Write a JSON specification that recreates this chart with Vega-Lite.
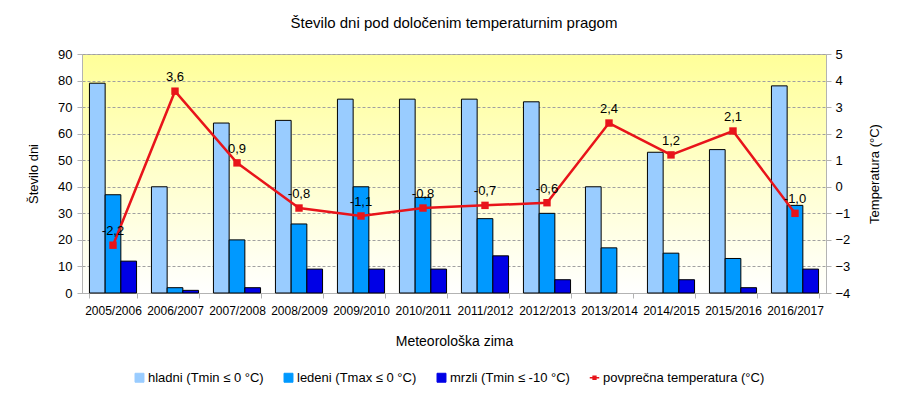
{
  "$schema": "https://vega.github.io/schema/vega-lite/v6.json",
  "autosize": "none",
  "width": 744,
  "height": 239,
  "padding": {"left": 82, "top": 54, "right": 76, "bottom": 104},
  "background": "#ffffff",
  "title": {
    "text": "Število dni pod določenim temperaturnim pragom",
    "font": "Liberation Sans",
    "fontSize": 15,
    "fontWeight": "normal",
    "color": "#000000",
    "offset": 17
  },
  "config": {
    "font": "Liberation Sans",
    "view": {
      "stroke": "#b3b3b3",
      "fill": {
        "gradient": "linear",
        "x1": 0, "y1": 0, "x2": 0, "y2": 1,
        "stops": [
          {"offset": 0, "color": "#ffff99"},
          {"offset": 1, "color": "#ffffff"}
        ]
      }
    },
    "axis": {
      "domainColor": "#b3b3b3",
      "tickColor": "#b3b3b3",
      "tickSize": 5,
      "labelColor": "#000000",
      "titleColor": "#000000",
      "titleFontWeight": "normal",
      "labelFont": "Liberation Sans",
      "titleFont": "Liberation Sans"
    }
  },
  "datasets": {
    "bars": [
      {"zima": "2005/2006", "serija": "hladni", "dni": 79},
      {"zima": "2005/2006", "serija": "ledeni", "dni": 37},
      {"zima": "2005/2006", "serija": "mrzli", "dni": 12},
      {"zima": "2006/2007", "serija": "hladni", "dni": 40},
      {"zima": "2006/2007", "serija": "ledeni", "dni": 2},
      {"zima": "2006/2007", "serija": "mrzli", "dni": 1},
      {"zima": "2007/2008", "serija": "hladni", "dni": 64},
      {"zima": "2007/2008", "serija": "ledeni", "dni": 20},
      {"zima": "2007/2008", "serija": "mrzli", "dni": 2},
      {"zima": "2008/2009", "serija": "hladni", "dni": 65},
      {"zima": "2008/2009", "serija": "ledeni", "dni": 26},
      {"zima": "2008/2009", "serija": "mrzli", "dni": 9},
      {"zima": "2009/2010", "serija": "hladni", "dni": 73},
      {"zima": "2009/2010", "serija": "ledeni", "dni": 40},
      {"zima": "2009/2010", "serija": "mrzli", "dni": 9},
      {"zima": "2010/2011", "serija": "hladni", "dni": 73},
      {"zima": "2010/2011", "serija": "ledeni", "dni": 36},
      {"zima": "2010/2011", "serija": "mrzli", "dni": 9},
      {"zima": "2011/2012", "serija": "hladni", "dni": 73},
      {"zima": "2011/2012", "serija": "ledeni", "dni": 28},
      {"zima": "2011/2012", "serija": "mrzli", "dni": 14},
      {"zima": "2012/2013", "serija": "hladni", "dni": 72},
      {"zima": "2012/2013", "serija": "ledeni", "dni": 30},
      {"zima": "2012/2013", "serija": "mrzli", "dni": 5},
      {"zima": "2013/2014", "serija": "hladni", "dni": 40},
      {"zima": "2013/2014", "serija": "ledeni", "dni": 17},
      {"zima": "2014/2015", "serija": "hladni", "dni": 53},
      {"zima": "2014/2015", "serija": "ledeni", "dni": 15},
      {"zima": "2014/2015", "serija": "mrzli", "dni": 5},
      {"zima": "2015/2016", "serija": "hladni", "dni": 54},
      {"zima": "2015/2016", "serija": "ledeni", "dni": 13},
      {"zima": "2015/2016", "serija": "mrzli", "dni": 2},
      {"zima": "2016/2017", "serija": "hladni", "dni": 78},
      {"zima": "2016/2017", "serija": "ledeni", "dni": 33},
      {"zima": "2016/2017", "serija": "mrzli", "dni": 9}
    ],
    "temps": [
      {"zima": "2005/2006", "temp": -2.2, "lbl": "-2,2"},
      {"zima": "2006/2007", "temp": 3.6, "lbl": "3,6"},
      {"zima": "2007/2008", "temp": 0.9, "lbl": "0,9"},
      {"zima": "2008/2009", "temp": -0.8, "lbl": "-0,8"},
      {"zima": "2009/2010", "temp": -1.1, "lbl": "-1,1"},
      {"zima": "2010/2011", "temp": -0.8, "lbl": "-0,8"},
      {"zima": "2011/2012", "temp": -0.7, "lbl": "-0,7"},
      {"zima": "2012/2013", "temp": -0.6, "lbl": "-0,6"},
      {"zima": "2013/2014", "temp": 2.4, "lbl": "2,4"},
      {"zima": "2014/2015", "temp": 1.2, "lbl": "1,2"},
      {"zima": "2015/2016", "temp": 2.1, "lbl": "2,1"},
      {"zima": "2016/2017", "temp": -1.0, "lbl": "-1,0"}
    ]
  },
  "encoding": {
    "x": {
      "field": "zima",
      "type": "nominal",
      "sort": null,
      "scale": {"paddingInner": 0.24, "paddingOuter": 0.12},
      "axis": {
        "title": "Meteorološka zima",
        "labelAngle": 0,
        "tickBand": "extent",
        "labelFontSize": 12,
        "labelPadding": 7,
        "titleFontSize": 14,
        "titlePadding": 18
      }
    }
  },
  "layer": [
    {
      "data": {"name": "bars"},
      "mark": {"type": "bar", "stroke": "#000000", "strokeWidth": 1},
      "encoding": {
        "xOffset": {"field": "serija", "type": "nominal", "scale": {"domain": ["hladni", "ledeni", "mrzli"], "paddingInner": 0, "paddingOuter": 0}},
        "y": {
          "field": "dni",
          "type": "quantitative",
          "scale": {"domain": [0, 90], "nice": false},
          "axis": {
            "title": "Število dni",
            "values": [0, 10, 20, 30, 40, 50, 60, 70, 80, 90],
            "orient": "left",
            "labelFontSize": 13,
            "labelPadding": 5,
            "titleFontSize": 13,
            "titlePadding": 17,
            "grid": true,
            "gridColor": "#a0a0a0",
            "gridDash": [3, 2],
            "gridOpacity": 1
          }
        },
        "color": {
          "field": "serija",
          "type": "nominal",
          "scale": {
            "domain": ["hladni", "ledeni", "mrzli", "temp"],
            "range": ["#99ccff", "#0099ff", "#0000e6", "#e8141a"]
          },
          "legend": {
            "title": null,
            "orient": "none",
            "direction": "horizontal",
            "legendX": 51,
            "legendY": 317,
            "symbolType": "square",
            "symbolSize": 80,
            "symbolStrokeColor": "#000000",
            "symbolStrokeWidth": 1,
            "symbolOpacity": 1,
            "labelFont": "Liberation Sans",
            "labelFontSize": 13,
            "labelColor": "#000000",
            "labelOffset": 2,
            "columnPadding": 18,
            "labelLimit": 300,
            "labelExpr": "datum.value === 'hladni' ? 'hladni (Tmin ≤ 0 °C)' : datum.value === 'ledeni' ? 'ledeni (Tmax ≤ 0 °C)' : datum.value === 'mrzli' ? 'mrzli (Tmin ≤ -10 °C)' : 'povprečna temperatura (°C)'",
            "encode": {
              "symbols": {
                "update": {
                  "shape": {"signal": "datum.value === 'temp' ? 'M-1,-0.15H1V0.15H-1Z M-0.45,-0.45H0.45V0.45H-0.45Z' : 'square'"},
                  "stroke": {"signal": "datum.value === 'temp' ? '#e8141a' : '#000000'"},
                  "strokeWidth": {"signal": "datum.value === 'temp' ? 0 : 1"},
                  "size": {"signal": "datum.value === 'temp' ? 90 : 80"}
                }
              }
            }
          }
        }
      }
    },
    {
      "data": {"name": "temps"},
      "encoding": {
        "y": {
          "field": "temp",
          "type": "quantitative",
          "scale": {"domain": [-4, 5], "nice": false},
          "axis": {
            "title": "Temperatura (°C)",
            "orient": "right",
            "values": [-4, -3, -2, -1, 0, 1, 2, 3, 4, 5],
            "labelFontSize": 13,
            "labelPadding": 4,
            "titleFontSize": 13,
            "titleAngle": 270,
            "titlePadding": 32,
            "grid": false
          }
        }
      },
      "layer": [
        {
          "mark": {"type": "line", "strokeWidth": 2.5},
          "encoding": {"color": {"datum": "temp"}}
        },
        {
          "mark": {"type": "point", "shape": "square", "filled": true, "size": 55, "opacity": 1},
          "encoding": {"color": {"datum": "temp"}}
        },
        {
          "mark": {"type": "text", "dy": -14, "fontSize": 13, "color": "#000000"},
          "encoding": {"text": {"field": "lbl"}}
        }
      ]
    }
  ],
  "resolve": {"scale": {"y": "independent"}}
}
